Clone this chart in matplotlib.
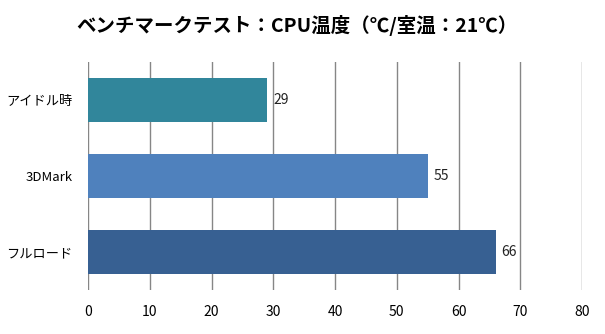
import matplotlib
matplotlib.use("Agg")
import matplotlib.pyplot as plt

plt.rcParams['font.family'] = ['Noto Sans CJK JP', 'DejaVu Sans']

# data
categories = ['アイドル時', '3DMark', 'フルロード']
values = [29, 55, 66]
colors = ['#31869b', '#4f81bd', '#376092']
xticks = [0, 10, 20, 30, 40, 50, 60, 70, 80]
title = 'ベンチマークテスト：CPU温度（℃/室温：21℃）'

fig = plt.figure(figsize=(6.05, 3.34), dpi=100)
ax = fig.add_axes([88 / 605, 1 - 290 / 334, (582 - 88) / 605, (290 - 62) / 334])

pos = list(range(len(categories)))
ax.barh(pos, values, height=0.58, color=colors, zorder=3)
for p, v in zip(pos, values):
    ax.text(v + 1.0, p, str(v), va='center', ha='left', fontsize=10, color='#222222')

ax.set_xlim(0, 80)
ax.set_ylim(len(categories) - 0.5, -0.5)
ax.set_yticks(pos)
ax.set_yticklabels(categories, fontsize=9.5)
ax.set_xticks(xticks)
ax.set_xticklabels([str(t) for t in xticks], fontsize=10)
ax.tick_params(axis='y', length=0, pad=11)
ax.tick_params(axis='x', length=0, pad=11)
ax.grid(axis='x', color='#868686', linewidth=1, zorder=0)
for s in ax.spines.values():
    s.set_visible(False)

fig.text(0.49, 1 - 25 / 334, title, ha='center', va='center', fontsize=14, fontweight='bold')

plt.savefig('out.png', dpi=100)
